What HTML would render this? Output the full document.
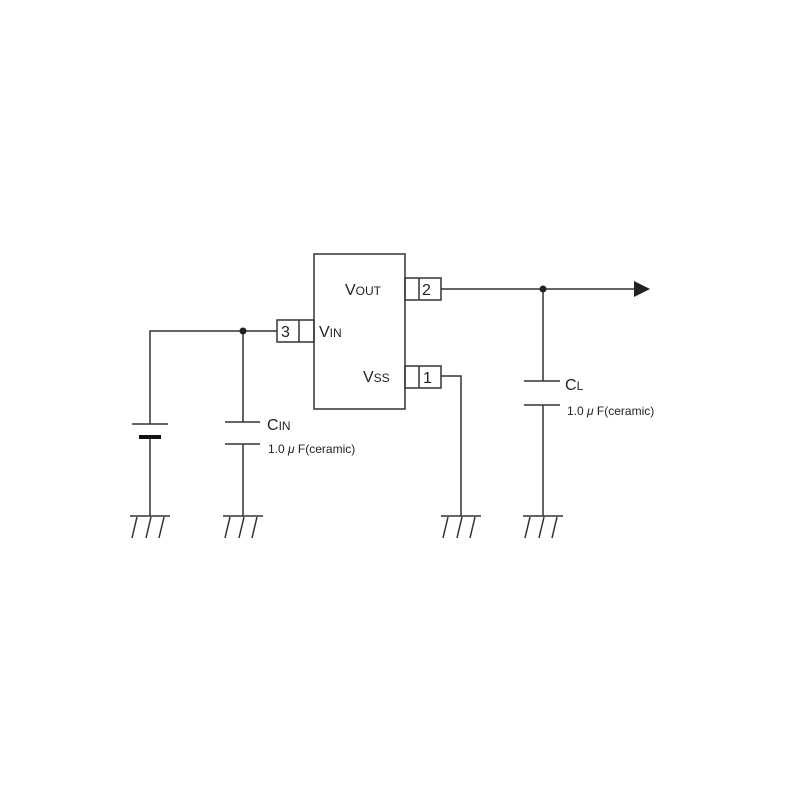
<!DOCTYPE html>
<html><head><style>body{margin:0;background:#fff}svg{display:block}</style></head><body>
<svg width="800" height="800" viewBox="0 0 800 800" xmlns="http://www.w3.org/2000/svg" font-family="Liberation Sans, sans-serif" fill="#222">
<g stroke="#333" stroke-width="1.5" fill="none">
<rect x="314" y="254" width="91" height="155"/>
<rect x="277" y="320" width="37" height="22"/><line x1="299" y1="320" x2="299" y2="342"/>
<rect x="405" y="278" width="36" height="22"/><line x1="419" y1="278" x2="419" y2="300"/>
<rect x="405" y="366" width="36" height="22"/><line x1="419" y1="366" x2="419" y2="388"/>
<polyline points="277,331 150,331 150,424"/>
<line x1="132" y1="424" x2="168" y2="424"/>
<line x1="150" y1="437" x2="150" y2="516"/>
<line x1="243" y1="331" x2="243" y2="422"/>
<line x1="225" y1="422" x2="260" y2="422"/>
<line x1="225" y1="444" x2="260" y2="444"/>
<line x1="243" y1="444" x2="243" y2="516"/>
<line x1="441" y1="289" x2="636" y2="289"/>
<polyline points="441,376 461,376 461,516"/>
<line x1="543" y1="289" x2="543" y2="381"/>
<line x1="524" y1="381" x2="560" y2="381"/>
<line x1="524" y1="405" x2="560" y2="405"/>
<line x1="543" y1="405" x2="543" y2="516"/>
<g id="g"><line x1="130" y1="516" x2="170" y2="516"/><line x1="137" y1="517" x2="132" y2="538"/><line x1="151" y1="517" x2="146" y2="538"/><line x1="164" y1="517" x2="159" y2="538"/></g>
<use href="#g" x="93"/><use href="#g" x="311"/><use href="#g" x="393"/>
</g>
<line x1="139" y1="437" x2="161" y2="437" stroke="#111" stroke-width="4"/>
<circle cx="243" cy="331" r="3.5"/><circle cx="543" cy="289" r="3.5"/>
<polygon points="634,281 650,289 634,297"/>
<g font-size="16">
<text x="345" y="295">V<tspan font-size="12">OUT</tspan></text>
<text x="319" y="337">V<tspan font-size="12">IN</tspan></text>
<text x="363" y="382">V<tspan font-size="12">SS</tspan></text>
<text x="281" y="337">3</text><text x="422" y="295">2</text><text x="423" y="383">1</text>
<text x="267" y="430">C<tspan font-size="12">IN</tspan></text>
<text x="565" y="390">C<tspan font-size="12">L</tspan></text>
</g>
<g font-size="12">
<text x="268" y="453">1.0 <tspan font-style="italic">μ</tspan> F(ceramic)</text>
<text x="567" y="415">1.0 <tspan font-style="italic">μ</tspan> F(ceramic)</text>
</g>
</svg>
</body></html>
